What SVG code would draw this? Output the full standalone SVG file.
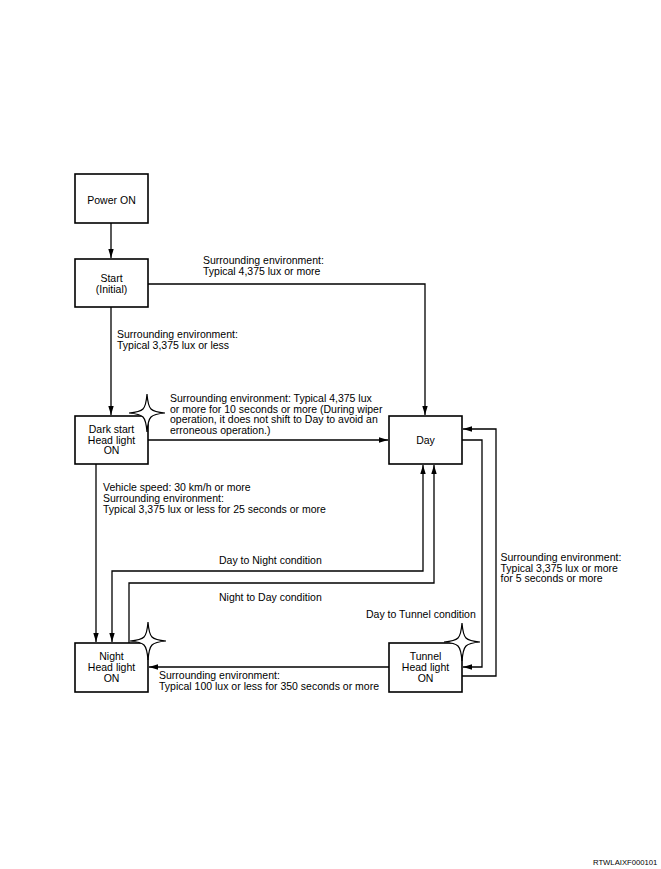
<svg xmlns="http://www.w3.org/2000/svg" width="661" height="869" viewBox="0 0 661 869">
<style>
.box{fill:#fff;stroke:#000;stroke-width:1.6}
.ln{fill:none;stroke:#000;stroke-width:1.3}
.star{fill:#fff;stroke:#000;stroke-width:1.2;stroke-linejoin:miter}
text{font-family:"Liberation Sans",Arial,sans-serif;font-size:10.5px;fill:#000}
.c{text-anchor:middle}
</style>
<defs>
<marker id="ah" viewBox="0 0 10 6" refX="10" refY="3" markerWidth="9" markerHeight="5.4" markerUnits="userSpaceOnUse" orient="auto-start-reverse">
<path d="M0,0 L10,3 L0,6 Z" fill="#000"/>
</marker>
<path id="st" class="star" d="M0,-19 Q1,-7 4,-4 Q7,-1 18,0 Q7,1 4,4 Q1,7 0,19 Q-1,7 -4,4 Q-7,1 -18,0 Q-7,-1 -4,-4 Q-1,-7 0,-19 Z"/>
</defs>
<rect width="661" height="869" fill="#fff"/>
<g id="connectors">
<path class="ln" d="M111,223 V258" marker-end="url(#ah)"/>
<path class="ln" d="M148,284 H425 V415" marker-end="url(#ah)"/>
<path class="ln" d="M111,307 V415" marker-end="url(#ah)"/>
<path class="ln" d="M148,440 H388" marker-end="url(#ah)"/>
<path class="ln" d="M96,464 V642" marker-end="url(#ah)"/>
<path class="ln" d="M423,465 V571 H112 V642" marker-start="url(#ah)" marker-end="url(#ah)"/>
<path class="ln" d="M129,643 V583 H434 V465" marker-end="url(#ah)"/>
<path class="ln" d="M462,440 H482 V667 H463" marker-end="url(#ah)"/>
<path class="ln" d="M462,676 H496 V429 H463" marker-end="url(#ah)"/>
<path class="ln" d="M389,667 H149" marker-end="url(#ah)"/>
</g>
<g id="power-on">
<rect class="box" x="75" y="174" width="73" height="49"/>
<text class="c" x="111.5" y="203.5">Power ON</text>
</g>
<g id="start">
<rect class="box" x="75" y="259" width="73" height="48"/>
<text class="c" x="111.5" y="281.5">Start</text>
<text class="c" x="111.5" y="292.5">(Initial)</text>
</g>
<g id="dark-start">
<rect class="box" x="75" y="416" width="73" height="48"/>
<text class="c" x="111.5" y="433">Dark start</text>
<text class="c" x="111.5" y="443.7">Head light</text>
<text class="c" x="111.5" y="454.4">ON</text>
<use href="#st" x="147" y="413"/>
</g>
<g id="day">
<rect class="box" x="389" y="416" width="73" height="48"/>
<text class="c" x="425.5" y="443.7">Day</text>
</g>
<g id="night">
<rect class="box" x="75" y="643" width="73" height="49"/>
<text class="c" x="111.5" y="660.4">Night</text>
<text class="c" x="111.5" y="671">Head light</text>
<text class="c" x="111.5" y="681.7">ON</text>
<use href="#st" x="148" y="641"/>
</g>
<g id="tunnel">
<rect class="box" x="389" y="643" width="73" height="49"/>
<text class="c" x="425.5" y="660.4">Tunnel</text>
<text class="c" x="425.5" y="671">Head light</text>
<text class="c" x="425.5" y="681.7">ON</text>
<use href="#st" x="462" y="642"/>
</g>
<g id="labels">
<text x="203" y="264">Surrounding environment:</text>
<text x="203" y="274.5">Typical 4,375 lux or more</text>
<text x="117" y="338">Surrounding environment:</text>
<text x="117" y="348.7">Typical 3,375 lux or less</text>
<text x="170" y="402">Surrounding environment: Typical 4,375 lux</text>
<text x="170" y="412.7">or more for 10 seconds or more (During wiper</text>
<text x="170" y="423.4">operation, it does not shift to Day to avoid an</text>
<text x="170" y="434.1">erroneous operation.)</text>
<text x="103" y="491.4">Vehicle speed: 30 km/h or more</text>
<text x="103" y="502">Surrounding environment:</text>
<text x="103" y="512.7">Typical 3,375 lux or less for 25 seconds or more</text>
<text x="219" y="564.4">Day to Night condition</text>
<text x="219" y="601">Night to Day condition</text>
<text x="366" y="617.7">Day to Tunnel condition</text>
<text x="500.5" y="561">Surrounding environment:</text>
<text x="500.5" y="571.7">Typical 3,375 lux or more</text>
<text x="500.5" y="582.4">for 5 seconds or more</text>
<text x="159" y="679.4">Surrounding environment:</text>
<text x="159" y="690">Typical 100 lux or less for 350 seconds or more</text>
<text x="593" y="865" style="font-size:7.7px">RTWLAIXF000101</text>
</g>
</svg>
